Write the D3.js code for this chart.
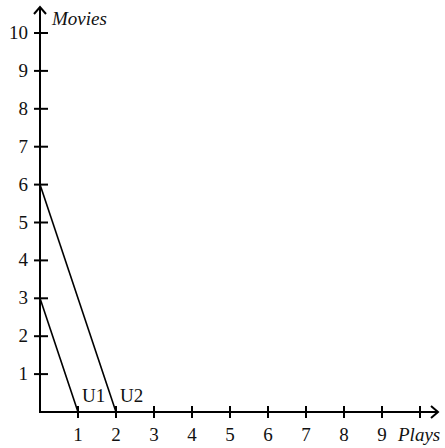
<!DOCTYPE html>
<html><head><meta charset="utf-8">
<script src="https://cdn.jsdelivr.net/npm/d3@7"></script>
<style>body{margin:0;background:#fff}svg{display:block}text{font-family:"Liberation Serif","DejaVu Serif",serif;fill:#111}</style>
</head><body><svg id="c" width="445" height="448"></svg>
<script>
const xTicks = [1,2,3,4,5,6,7,8,9,10];
const xTickLabels = ["1","2","3","4","5","6","7","8","9",""];
const yTicks = [1,2,3,4,5,6,7,8,9,10];
const yTickLabels = ["1","2","3","4","5","6","7","8","9","10"];
const curveNames = ["U1","U2"];
const curveMovies = [3,6];   // y-intercepts
const curvePlays = [1,2];    // x-intercepts
const xLabel = "Plays", yLabel = "Movies";

const svg = d3.select("#c");
const x = d3.scaleLinear().domain([0,10]).range([40,420]);
const y = d3.scaleLinear().domain([0,10]).range([412,33]);
const fs = 19;

// axes lines
svg.append("line").attr("x1",x(0)).attr("y1",y(0)).attr("x2",437).attr("y2",y(0)).attr("stroke","#000").attr("stroke-width",2);
svg.append("line").attr("x1",x(0)).attr("y1",y(0)+1).attr("x2",x(0)).attr("y2",8).attr("stroke","#000").attr("stroke-width",2);
// arrows
svg.append("path").attr("d",`M${431},${y(0)-6}L${438},${y(0)}L${431},${y(0)+6}`).attr("fill","none").attr("stroke","#000").attr("stroke-width",2);
svg.append("path").attr("d",`M${x(0)-6},${14}L${x(0)},${7}L${x(0)+6},${14}`).attr("fill","none").attr("stroke","#000").attr("stroke-width",2);

// ticks
svg.selectAll(".xt").data(xTicks).enter().append("line")
  .attr("x1",d=>x(d)).attr("x2",d=>x(d)).attr("y1",y(0)-6).attr("y2",y(0)+6)
  .attr("stroke","#000").attr("stroke-width",2);
svg.selectAll(".yt").data(yTicks).enter().append("line")
  .attr("y1",d=>y(d)).attr("y2",d=>y(d)).attr("x1",x(0)-6).attr("x2",x(0)+8)
  .attr("stroke","#000").attr("stroke-width",2);

// tick labels
svg.selectAll(".xl").data(xTicks).enter().append("text")
  .attr("x",d=>x(d)).attr("y",441).attr("text-anchor","middle").attr("font-size",fs)
  .text((d,i)=>xTickLabels[i]);
svg.selectAll(".yl").data(yTicks).enter().append("text")
  .attr("x",28).attr("y",d=>y(d)+6).attr("text-anchor","end").attr("font-size",fs)
  .text((d,i)=>yTickLabels[i]);

// axis titles
svg.append("text").attr("x",398).attr("y",441).attr("font-size",fs).attr("font-style","italic").text(xLabel);
svg.append("text").attr("x",52).attr("y",25).attr("font-size",fs).attr("font-style","italic").text(yLabel);

// curves
curveNames.forEach((n,i)=>{
  svg.append("line").attr("x1",x(0)).attr("y1",y(curveMovies[i])).attr("x2",x(curvePlays[i])).attr("y2",y(0))
    .attr("stroke","#000").attr("stroke-width",1.6);
  svg.append("text").attr("x",x(curvePlays[i])+4).attr("y",y(0)-10).attr("font-size",fs).text(n);
});
</script></body></html>
